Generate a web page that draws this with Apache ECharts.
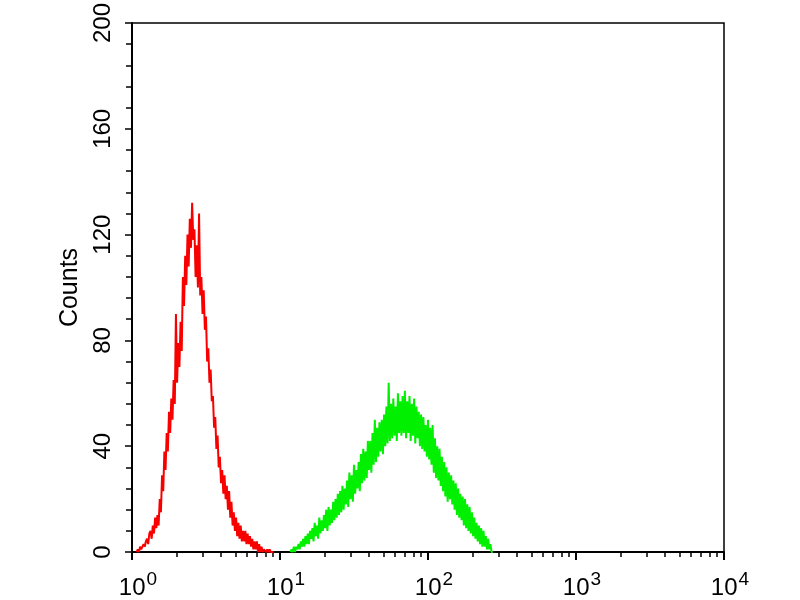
<!DOCTYPE html>
<html>
<head>
<meta charset="utf-8">
<script src="https://cdn.jsdelivr.net/npm/echarts@6/dist/echarts.min.js"></script>
<style>html,body{margin:0;padding:0;background:#fff;}#c{width:800px;height:600px;}</style>
</head>
<body>
<div id="c"></div>
<script>
// Histogram bins: 128 channels per decade on a log scale 10^0 .. 10^4
var channelsPerDecade = 128;
var redStartChannel = 4;
var greenStartChannel = 137;
var yTicks = [0, 40, 80, 120, 160, 200];
var xDecades = [1, 10, 100, 1000, 10000];
var xMinorTicks = [2,3,4,5,6,7,8,9,20,30,40,50,60,70,80,90,200,300,400,500,600,700,800,900,2000,3000,4000,5000,6000,7000,8000,9000];

// Counts per channel
var redCounts = [
  0,1,0,2,1,2,3,2,4,5,3,7,8,5,10,7,13,9,14,10,
  20,15,29,23,38,31,45,38,53,45,58,50,65,56,90,64,79,70,87,76,
  104,93,112,101,120,108,126,115,132,118,122,104,116,100,128,97,104,90,99,84,
  89,72,77,64,69,57,59,47,51,39,44,32,36,26,31,22,29,20,25,16,
  23,13,19,10,15,8,13,6,11,5,10,4,8,4,8,3,7,3,6,2,
  5,1,4,1,4,0,3,0,2,0,1,1,0,1,0,1,0,0,0
];
var greenCounts = [
  0,1,0,2,0,2,1,3,
  1,4,2,5,2,6,3,7,3,8,
  5,9,4,11,6,10,5,13,7,12,
  8,14,9,16,8,17,10,16,11,19,
  12,20,13,22,14,23,15,25,16,24,
  18,27,17,30,20,29,19,33,22,31,
  24,34,23,37,26,39,27,38,28,42,
  31,42,30,45,33,50,34,47,36,49,
  38,50,37,52,40,55,41,64,42,56,
  43,58,44,55,42,60,45,57,44,59,
  45,61,43,57,45,59,42,56,44,58,
  41,55,43,53,40,52,39,51,38,48,
  36,50,35,47,33,48,30,43,28,40,
  27,39,25,36,23,34,21,32,19,30,
  20,29,18,27,16,26,14,24,13,22,
  12,21,10,20,9,18,8,17,7,15,
  6,13,5,11,4,10,3,9,2,8,
  2,6,1,5,1,3,0,0
];

function toPoints(counts, start) {
  return counts.map(function (v, i) {
    return [Math.pow(10, (start + i) / channelsPerDecade), v];
  });
}

var font = 'Liberation Sans, Arial, sans-serif';
var chart = echarts.init(document.getElementById('c'), null, {renderer: 'canvas'});
chart.setOption({
  animation: false,
  backgroundColor: '#ffffff',
  grid: {left: 132, right: 76, top: 22, bottom: 48, show: true, borderColor: '#000', borderWidth: 1.5, backgroundColor: 'transparent'},
  xAxis: [{
    type: 'log', logBase: 10, min: 1, max: 10000, position: 'bottom',
    axisLine: {show: true, lineStyle: {color: '#000', width: 2}},
    axisTick: {show: true, length: 8, lineStyle: {color: '#000', width: 2}, customValues: xDecades},
    splitLine: {show: false},
    axisLabel: {
      show: true, margin: 16, color: '#000', fontFamily: font, customValues: xDecades,
      formatter: function (v) { return '{b|10}{e|' + Math.round(Math.log10(v)) + '}'; },
      rich: {
        b: {fontSize: 24, fontFamily: font, color: '#000', padding: [8, 0, 0, 12]},
        e: {fontSize: 19, fontFamily: font, color: '#000', padding: [0, 0, 8, 1]}
      }
    }
  }, {
    type: 'log', logBase: 10, min: 1, max: 10000, position: 'bottom',
    axisLine: {show: false},
    axisTick: {show: true, length: 5, lineStyle: {color: '#000', width: 1.5}, customValues: xMinorTicks},
    axisLabel: {show: false},
    splitLine: {show: false}
  }],
  yAxis: {
    type: 'value', min: 0, max: 200, interval: 40,
    name: 'Counts', nameLocation: 'middle', nameGap: 48, nameRotate: 90,
    nameTextStyle: {fontFamily: font, fontSize: 25, color: '#000'},
    axisLine: {show: true, lineStyle: {color: '#000', width: 2}},
    axisTick: {show: true, length: 7, lineStyle: {color: '#000', width: 1.5}},
    minorTick: {show: true, splitNumber: 5, length: 6, lineStyle: {color: '#000', width: 1.5}},
    splitLine: {show: false},
    minorSplitLine: {show: false},
    axisLabel: {show: true, rotate: 90, margin: 17, fontFamily: font, fontSize: 24, color: '#000'}
  },
  series: [{
    type: 'line', data: toPoints(redCounts, redStartChannel), showSymbol: false, symbol: 'none',
    lineStyle: {color: '#f80000', width: 2}, xAxisIndex: 0
  }, {
    type: 'line', data: toPoints(greenCounts, greenStartChannel), showSymbol: false, symbol: 'none',
    lineStyle: {color: '#00f000', width: 2}, xAxisIndex: 0
  }]
});
</script>
</body>
</html>
